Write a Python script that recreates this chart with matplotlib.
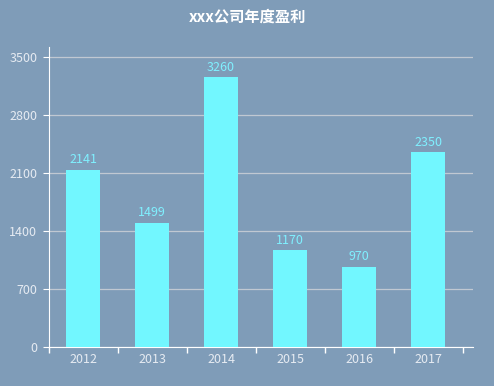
import matplotlib
matplotlib.use("Agg")
import matplotlib.pyplot as plt
import numpy as np

plt.rcParams['font.family'] = ['Noto Sans CJK SC', 'DejaVu Sans']

years = ['2012', '2013', '2014', '2015', '2016', '2017']
profits = [2141, 1499, 3260, 1170, 970, 2350]
yticks = [0, 700, 1400, 2100, 2800, 3500]
title = 'xxx公司年度盈利'

bg = '#7f9cb8'
bar_color = '#72f7ff'
text_color = '#e6ebf2'

fig = plt.figure(figsize=(4.94, 3.86), dpi=100, facecolor=bg)
ax = fig.add_axes([48.5/494, 1-347/386, (473-48.5)/494, (347-47)/386])
ax.set_facecolor(bg)

x = np.arange(len(years))
ax.bar(x, profits, width=0.49, color=bar_color, zorder=3)
for xi, v in zip(x, profits):
    ax.text(xi, v + 40, str(v), ha='center', va='bottom', color='#7ff0ff', fontsize=9, zorder=4)

ax.set_xlim(-0.5, len(years) - 0.5 + 10.5/69)
ax.set_ylim(0, 3620)
ax.set_yticks(yticks)
ax.set_yticklabels([str(t) for t in yticks])
ax.set_xticks(x)
ax.set_xticklabels(years)
ax.set_xticks(np.arange(len(years) + 1) - 0.5, minor=True)
ax.tick_params(axis='x', which='major', length=0, colors=text_color, labelsize=9, pad=4)
ax.tick_params(axis='x', which='minor', length=4, color='white', width=1)
ax.tick_params(axis='y', length=4, color='white', colors=text_color, labelsize=9, pad=4)
for lab in ax.get_xticklabels() + ax.get_yticklabels():
    lab.set_color(text_color)
    lab.set_fontweight('medium')

ax.grid(axis='y', color='#c0c8d2', linewidth=0.9, zorder=1)
for s in ['top', 'right']:
    ax.spines[s].set_visible(False)
ax.spines['left'].set_color('white')
ax.spines['bottom'].set_color('white')

fig.text(0.5, 1 - 17/386, title, ha='center', va='center', color='white', fontsize=11, fontweight='bold')

fig.savefig('out.png', dpi=100, facecolor=bg)
